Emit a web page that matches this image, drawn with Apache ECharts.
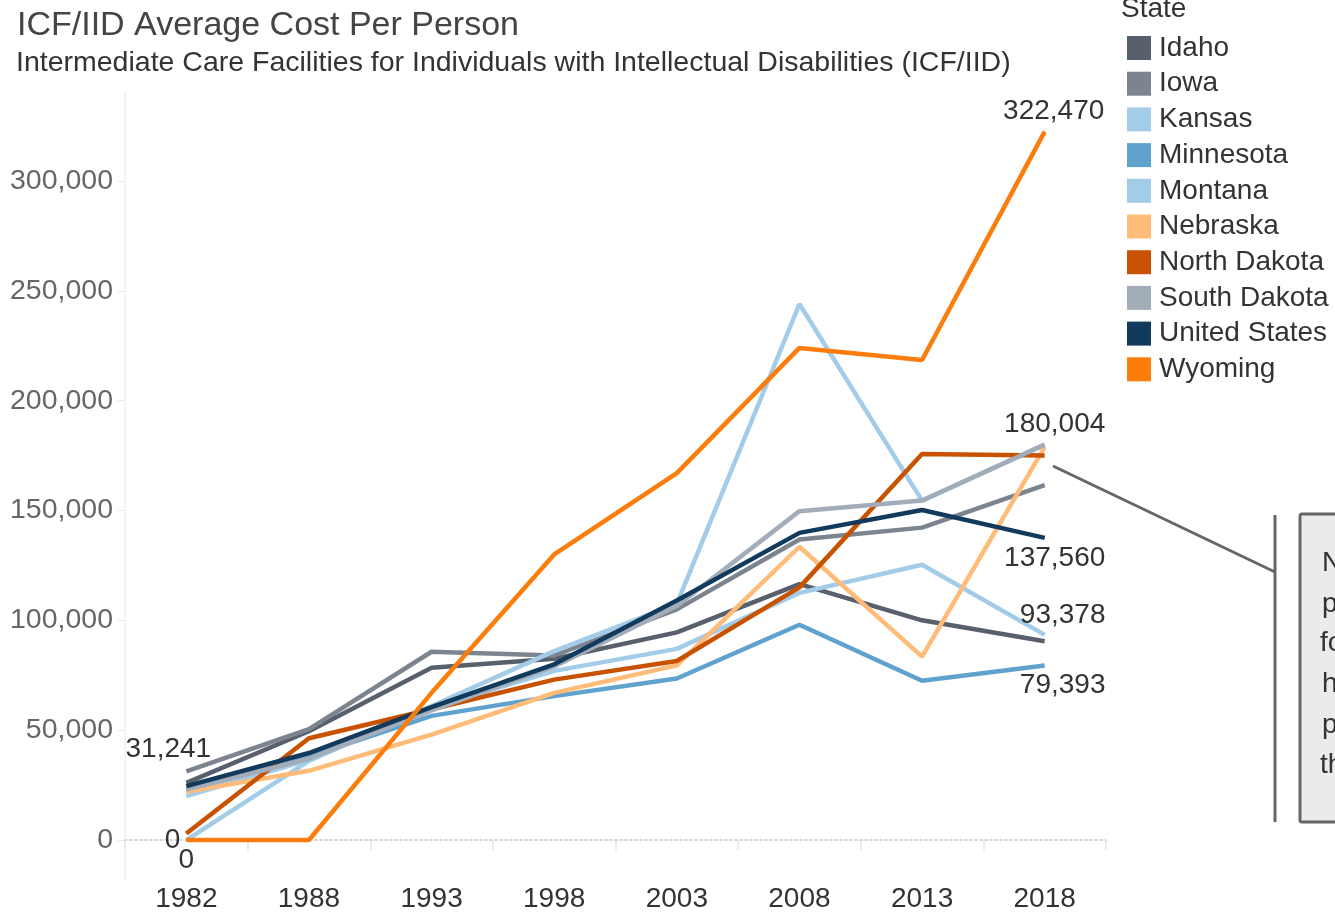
<!DOCTYPE html>
<html>
<head>
<meta charset="utf-8">
<script src="https://cdn.jsdelivr.net/npm/echarts@6/dist/echarts.min.js"></script>
<style>
html,body{margin:0;padding:0;background:#fff;}
#chart{width:1335px;height:919px;}
</style>
</head>
<body>
<div id="chart"></div>
<script>
const years = ['1982','1988','1993','1998','2003','2008','2013','2018'];
const yTicks = [0, 50000, 100000, 150000, 200000, 250000, 300000];

const idaho        = [26000, 49500, 78400, 82500, 94500, 116500, 100000, 90500];
const iowa         = [31241, 50500, 85700, 84000, 105000, 136800, 142200, 161500];
const kansas       = [20000, 36500, 60000, 77000, 87000, 112500, 125300, 93378];
const minnesota    = [22500, 38000, 56500, 65500, 73500, 98000, 72500, 79393];
const montana      = [0, 36000, 61000, 86000, 107500, 244000, 154500, 180004];
const nebraska     = [22000, 31500, 48000, 67000, 79500, 133500, 83500, 179000];
const northDakota  = [3000, 46300, 59500, 73000, 81500, 115000, 175700, 175000];
const southDakota  = [23000, 37000, 59000, 79000, 106500, 149700, 154500, 180004];
const unitedStates = [24500, 39600, 60500, 80000, 109000, 139800, 150200, 137560];
const wyoming      = [0, 0, 67000, 130000, 167000, 224000, 218500, 322470];

const states = ['Idaho','Iowa','Kansas','Minnesota','Montana','Nebraska','North Dakota','South Dakota','United States','Wyoming'];
const values = [idaho, iowa, kansas, minnesota, montana, nebraska, northDakota, southDakota, unitedStates, wyoming];
const colors = ['#57606c','#7b848f','#a3cce9','#5fa2ce','#a3cce9','#ffbc79','#c85200','#a3acb9','#123a5c','#fc7d0b'];

// point labels: [state, year index, placement, offset]
const pointLabels = [
  ['Iowa', 0, 'top', [-18, -2]],
  ['Wyoming', 0, 'left', [0, 0]],
  ['Montana', 0, 'bottom', [0, 0]],
  ['Wyoming', 7, 'top', [9, 0]],
  ['South Dakota', 7, 'top', [10, 0]],
  ['United States', 7, 'bottom', [10, 0]],
  ['Kansas', 7, 'top', [18, 0]],
  ['Minnesota', 7, 'bottom', [18, 0]]
];

const FONT = '"Liberation Sans", Arial, sans-serif';
const fmt = v => Number(v).toLocaleString('en-US');

const series = states.map((name, si) => {
  const data = values[si].map((v, i) => {
    const pl = pointLabels.find(p => p[0] === name && p[1] === i);
    if (!pl) return v;
    return {
      value: v,
      label: {
        show: true, position: pl[2], offset: pl[3], distance: 6,
        formatter: p => fmt(p.value),
        fontFamily: FONT, fontSize: 28, color: '#333'
      }
    };
  });
  const s = {
    name, type: 'line', data,
    symbol: 'circle', symbolSize: 0, showSymbol: true,
    lineStyle: { width: 4.5, color: colors[si] },
    itemStyle: { color: colors[si] },
    emphasis: { disabled: true },
    z: 2 + si
  };
  if (si === 0) {
    s.markLine = {
      silent: true, symbol: 'none', label: { show: false },
      lineStyle: { type: [2, 3], color: '#c8c8c8', width: 1.5 },
      data: [{ yAxis: 0 }]
    };
  }
  return s;
});

const chart = echarts.init(document.getElementById('chart'), null, { renderer: 'canvas' });
chart.setOption({
  animation: false,
  backgroundColor: '#fff',
  color: colors,
  title: [
    { text: 'ICF/IID Average Cost Per Person', left: 12, top: 4,
      textStyle: { fontFamily: FONT, fontSize: 34, fontWeight: 'normal', color: '#444' } },
    { text: 'Intermediate Care Facilities for Individuals with Intellectual Disabilities (ICF/IID)', left: 11, top: 44,
      textStyle: { fontFamily: FONT, fontSize: 28.5, fontWeight: 'normal', color: '#333' } }
  ],
  legend: {
    orient: 'vertical', left: 1127, top: 34, padding: 0,
    icon: 'rect', itemWidth: 24, itemHeight: 24, itemGap: 7.7,
    textStyle: { fontFamily: FONT, fontSize: 28, color: '#333', padding: [0, 0, 0, 3] },
    data: states, selectedMode: false
  },
  grid: { left: 125, right: 229, top: 92, bottom: 39, containLabel: false },
  xAxis: {
    type: 'category', data: years, boundaryGap: true,
    axisLine: { show: true, lineStyle: { color: '#e8e8e8', width: 1.5 } },
    axisTick: { show: true, length: 10, lineStyle: { color: '#e8e8e8', width: 1.5 } },
    axisLabel: { fontFamily: FONT, fontSize: 28, color: '#333', margin: 5 },
    splitLine: { show: false }
  },
  yAxis: {
    type: 'value', min: -18200, max: 340500,
    axisLine: { show: true, lineStyle: { color: '#efefef', width: 1.5 } },
    axisTick: { show: true, length: 7, customValues: yTicks, lineStyle: { color: '#eaeaea' } },
    axisLabel: { fontFamily: FONT, fontSize: 28.5, color: '#666', margin: 12, customValues: yTicks, formatter: v => fmt(v) },
    splitLine: { show: false }
  },
  graphic: [
    { type: 'text', left: 1121, top: -5,
      style: { text: 'State', font: '28px ' + FONT, fill: '#333' } },
    { type: 'line', shape: { x1: 1053, y1: 466, x2: 1275, y2: 572 },
      style: { stroke: '#666', lineWidth: 3 } },
    { type: 'line', shape: { x1: 1275, y1: 515, x2: 1275, y2: 822 },
      style: { stroke: '#666', lineWidth: 3 } },
    { type: 'rect', shape: { x: 1300, y: 514, width: 80, height: 308, r: 2 },
      style: { fill: '#ebebeb', stroke: '#666', lineWidth: 3 } },
    { type: 'text', x: 1322, y: 563, style: { text: 'N', font: '28px ' + FONT, fill: '#333', verticalAlign: 'middle' } },
    { type: 'text', x: 1322, y: 604, style: { text: 'p', font: '28px ' + FONT, fill: '#333', verticalAlign: 'middle' } },
    { type: 'text', x: 1320, y: 643, style: { text: 'fo', font: '28px ' + FONT, fill: '#333', verticalAlign: 'middle' } },
    { type: 'text', x: 1322, y: 684, style: { text: 'h', font: '28px ' + FONT, fill: '#333', verticalAlign: 'middle' } },
    { type: 'text', x: 1322, y: 725, style: { text: 'p', font: '28px ' + FONT, fill: '#333', verticalAlign: 'middle' } },
    { type: 'text', x: 1320, y: 765, style: { text: 'th', font: '28px ' + FONT, fill: '#333', verticalAlign: 'middle' } }
  ],
  series
});
</script>
</body>
</html>
